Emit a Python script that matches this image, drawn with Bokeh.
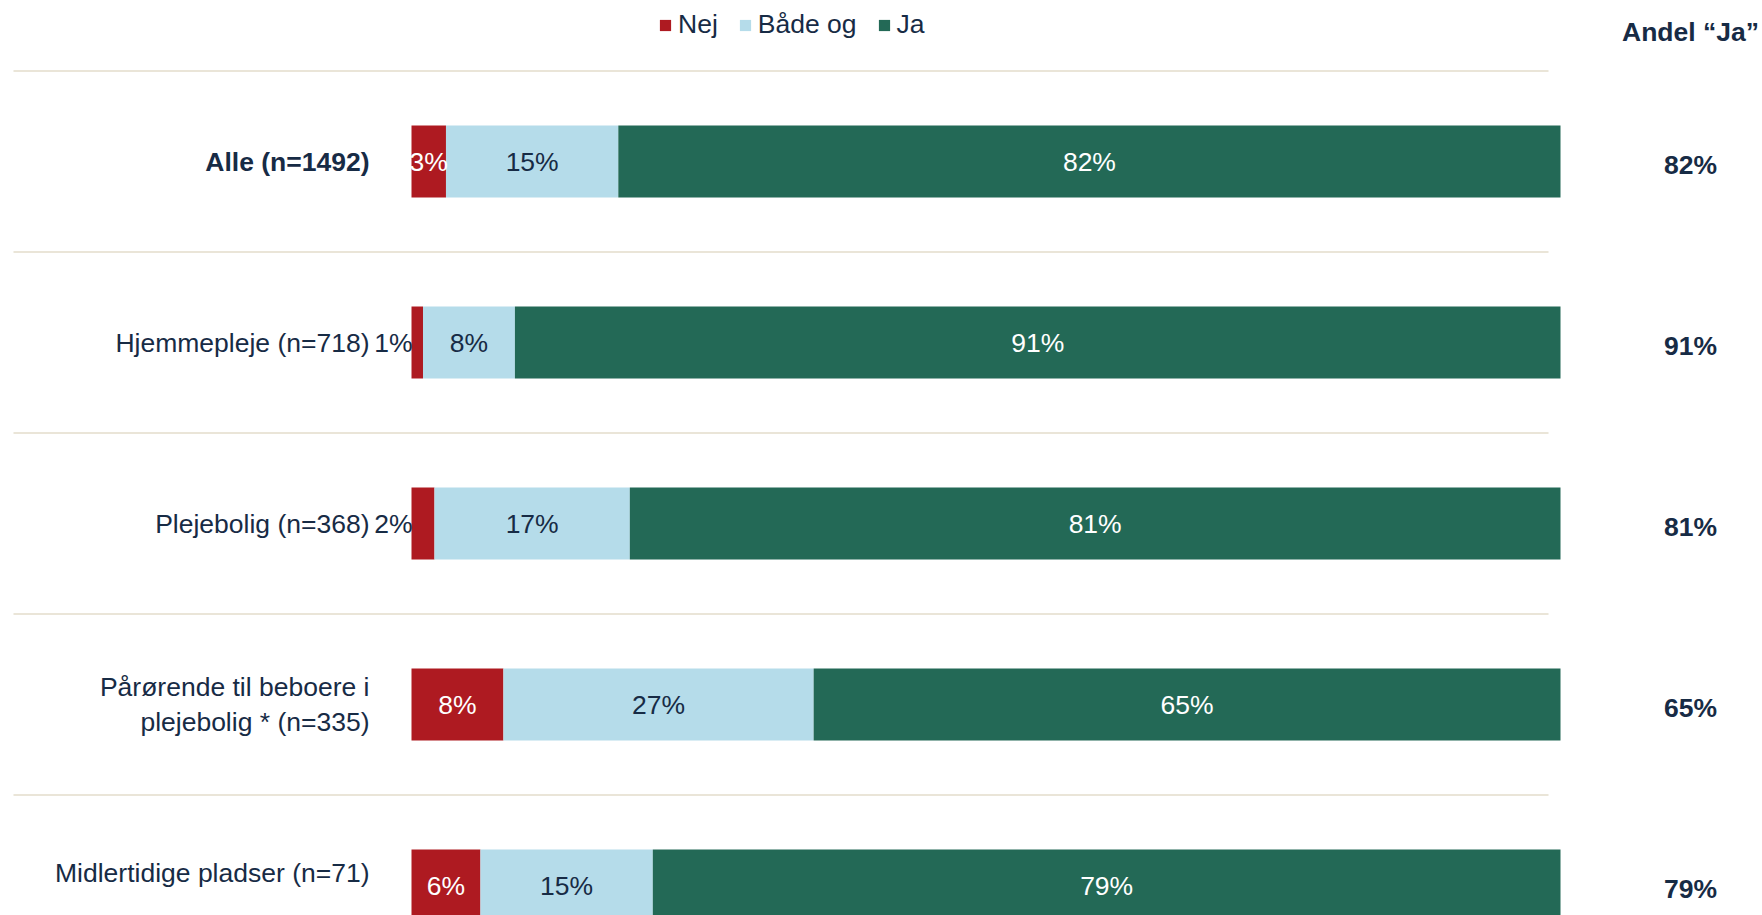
from bokeh.plotting import figure
from bokeh.models import Range1d, ColumnDataSource, Legend, LegendItem
from bokeh.core.properties import value
from bokeh.embed import file_html
from bokeh.resources import INLINE

# ---------------- data ----------------
categories = [
    "Alle (n=1492)",
    "Hjemmepleje (n=718)",
    "Plejebolig (n=368)",
    "Pårørende til beboere i\nplejebolig * (n=335)",
    "Midlertidige pladser (n=71)",
]
nej = [3, 1, 2, 8, 6]
baade = [15, 8, 17, 27, 15]
ja = [82, 91, 81, 65, 79]
series_names = ["Nej", "Både og", "Ja"]
header_text = "Andel \u201cJa\u201d"

# ---------------- style ----------------
RED = "#AE1A21"
LIGHT = "#B5DCEA"
GREEN = "#236956"
DARK = "#172B45"
SEP = "#EAE5D8"
FONT_NAME = "Liberation Sans"
FONT = value(FONT_NAME)
FS = "26.5px"

W, H = 1762, 915
X0_PX = 411          # frame px where 0 % sits
PX_PER_PCT = 11.49   # frame px per percent
ROW0_PX = 161        # frame px (from top) of first row centre
ROW_PX = 181         # px between rows
BAR_H = 72 / ROW_PX

x_range = Range1d(-X0_PX / PX_PER_PCT, (W - X0_PX) / PX_PER_PCT)
y_range = Range1d((H - ROW0_PX) / ROW_PX, -ROW0_PX / ROW_PX)

p = figure(width=W, height=H, x_range=x_range, y_range=y_range,
           output_backend="svg", toolbar_location=None,
           x_axis_type=None, y_axis_type=None, min_border=0,
           outline_line_color=None)
p.grid.visible = False
p.background_fill_color = "white"
p.border_fill_color = "white"

n = len(categories)
idx = list(range(n))

# separators
sep_x0 = (13 - X0_PX) / PX_PER_PCT
sep_x1 = (1548 - X0_PX) / PX_PER_PCT
p.segment(x0=[sep_x0] * n, x1=[sep_x1] * n, y0=[i - 0.5 for i in idx],
          y1=[i - 0.5 for i in idx], line_color=SEP, line_width=2)

# stacked bars
left = [0] * n
renderers = []
segs = []
for vals, col in zip([nej, baade, ja], [RED, LIGHT, GREEN]):
    right = [l + v for l, v in zip(left, vals)]
    src = ColumnDataSource(dict(y=idx, left=left, right=right))
    r = p.hbar(y="y", left="left", right="right", height=BAR_H, source=src,
               fill_color=col, line_color=None)
    renderers.append(r)
    segs.append((vals, left, right))
    left = right

# bar value labels
# Nej
in_x, in_y, in_t = [], [], []
out_x, out_y, out_t = [], [], []
for i in idx:
    v, l, r = nej[i], segs[0][1][i], segs[0][2][i]
    if v <= 2:
        out_x.append(l); out_y.append(i); out_t.append(f"{v}%")
    else:
        in_x.append((l + r) / 2); in_y.append(i); in_t.append(f"{v}%")
p.text(x=in_x, y=in_y, text=in_t, text_align="center", text_baseline="middle",
       text_font=FONT, text_font_size=FS, text_color="white")
p.text(x=out_x, y=out_y, text=out_t, text_align="right", text_baseline="middle",
       x_offset=1, text_font=FONT, text_font_size=FS, text_color=DARK)
# Både og
p.text(x=[(segs[1][1][i] + segs[1][2][i]) / 2 for i in idx], y=idx,
       text=[f"{v}%" for v in baade], text_align="center", text_baseline="middle",
       text_font=FONT, text_font_size=FS, text_color=DARK)
# Ja
p.text(x=[(segs[2][1][i] + segs[2][2][i]) / 2 for i in idx], y=idx,
       text=[f"{v}%" for v in ja], text_align="center", text_baseline="middle",
       text_font=FONT, text_font_size=FS, text_color="white")

# category labels
cat_src = ColumnDataSource(dict(
    x=[0] * n, y=idx, text=categories,
    style=["bold"] + ["normal"] * (n - 1),
    yoff=[0] * (n - 1) + [-13],
))
p.text(x="x", y="y", text="text", source=cat_src, x_offset=-42, y_offset="yoff",
       text_align="right", text_baseline="middle", text_font=FONT,
       text_font_size=FS, text_font_style="style", text_color=DARK,
       text_line_height=1.17)

# right column: share "Ja"
col_x = (1690 - X0_PX) / PX_PER_PCT
p.text(x=[col_x] * n, y=idx, text=[f"{v}%" for v in ja], y_offset=3,
       text_align="center", text_baseline="middle", text_font=FONT,
       text_font_size=FS, text_font_style="bold", text_color=DARK)
p.text(x=[col_x], y=[(31 - ROW0_PX) / ROW_PX], text=[header_text],
       text_align="center", text_baseline="middle", text_font=FONT,
       text_font_size=FS, text_font_style="bold", text_color=DARK)

# legend
legend = Legend(
    items=[LegendItem(label=nm, renderers=[r]) for nm, r in zip(series_names, renderers)],
    orientation="horizontal", location=(658, H - 40),
    label_text_font=FONT_NAME, label_text_font_size=FS, label_text_color=DARK,
    glyph_width=14, glyph_height=14, label_standoff=6, spacing=20,
    padding=0, margin=0, border_line_color=None, background_fill_alpha=0,
)
p.add_layout(legend, "center")

open("out.html", "w").write(file_html(p, INLINE))
